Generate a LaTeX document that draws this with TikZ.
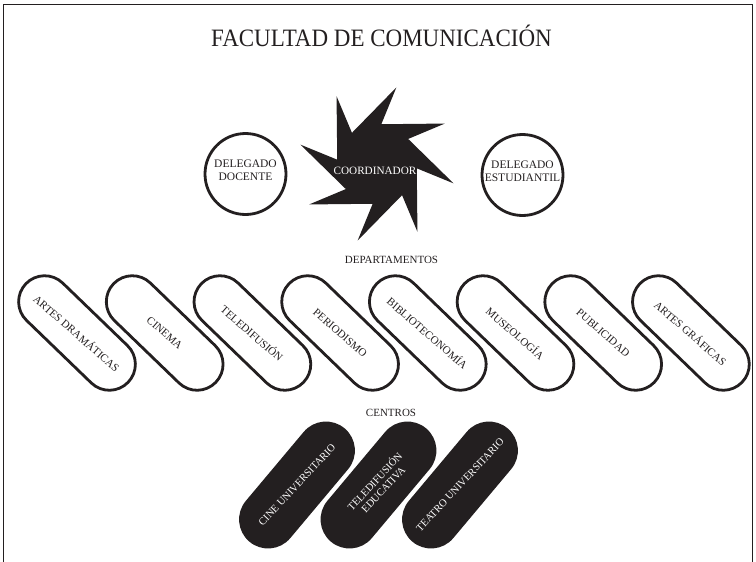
\documentclass[tikz,border=0pt]{standalone}
\usepackage{fontspec}
\setmainfont{Liberation Serif}
\usetikzlibrary{shapes.misc}
\definecolor{ink}{RGB}{35,31,32}
\begin{document}
\begin{tikzpicture}[x=1pt,y=-1pt,
  pilldept/.style={draw=ink, line width=2.8pt, fill=white, rounded rectangle, minimum width=142pt, minimum height=52pt, rotate=-44, inner sep=0pt},
  pillctr/.style={fill=ink, draw=none, rounded rectangle, minimum width=148pt, minimum height=58pt, rotate=50, inner sep=0pt},
  deptlabel/.style={font=\fontsize{11}{12}\selectfont, text=ink, rotate=-41, inner sep=0pt},
  ctrlabel/.style={font=\fontsize{10.5}{11.5}\selectfont, text=white, rotate=47, align=center, inner sep=0pt},
  delegado/.style={circle, draw=ink, line width=2.8pt, minimum size=81pt, inner sep=0pt},
  delegadotxt/.style={align=center, font=\fontsize{11.5}{13.5}\selectfont, text=ink, inner sep=0pt},
  heading/.style={font=\fontsize{11}{12}\selectfont, text=ink, inner sep=0pt, anchor=base}
]
\useasboundingbox (0,0) rectangle (756,562);
\draw[line width=0.8pt, ink] (3.5,562) -- (3.5,4) -- (752,4) -- (752,562);

\node[anchor=base, inner sep=0pt, text=ink] (title) at (381.5,46)
  {\scalebox{0.92}[1]{\fontsize{25}{25}\selectfont FACULTAD DE COMUNICACIÓN}};

% star
\fill[ink, shift={(377,164)}] (75.8:79pt)
  \foreach \k in {0,...,7} { -- ({75.8-45*\k}:79pt) -- ({83.8-45*\k}:40pt) } -- cycle;
\node[anchor=base, inner sep=0pt, text=white, font=\fontsize{11.2}{12}\selectfont] (coord) at (375,174) {COORDINADOR};

\node[delegado] (docente) at (245.5,174) {};
\node[delegadotxt] (docentetxt) at (245.5,170) {DELEGADO\\DOCENTE};
\node[delegado] (estudiantil) at (522.5,175) {};
\node[delegadotxt] (estudiantiltxt) at (522.5,171) {DELEGADO\\ESTUDIANTIL};

\node[heading] (deps) at (391.5,263) {DEPARTAMENTOS};

\foreach \i/\t in {0/ARTES DRAMÁTICAS,1/CINEMA,2/TELEDIFUSIÓN,3/PERIODISMO,4/BIBLIOTECONOMÍA,5/MUSEOLOGÍA,6/PUBLICIDAD,7/ARTES GRÁFICAS}{
  \node[pilldept] (dep\i) at ({77+87.7*\i},333) {};
  \node[deptlabel] (deplabel\i) at (dep\i.center) {\t};
}

\node[heading] (ctrs) at (391,416.7) {CENTROS};

\node[pillctr] (ctr0) at (297,485) {};
\node[ctrlabel] (ctrlabel0) at (ctr0.center) {CINE UNIVERSITARIO};
\node[pillctr] (ctr1) at (378.5,485) {};
\node[ctrlabel] (ctrlabel1) at (ctr1.center) {TELEDIFUSIÓN\\EDUCATIVA};
\node[pillctr] (ctr2) at (460,485) {};
\node[ctrlabel] (ctrlabel2) at (ctr2.center) {TEATRO UNIVERSITARIO};
\end{tikzpicture}
\end{document}
